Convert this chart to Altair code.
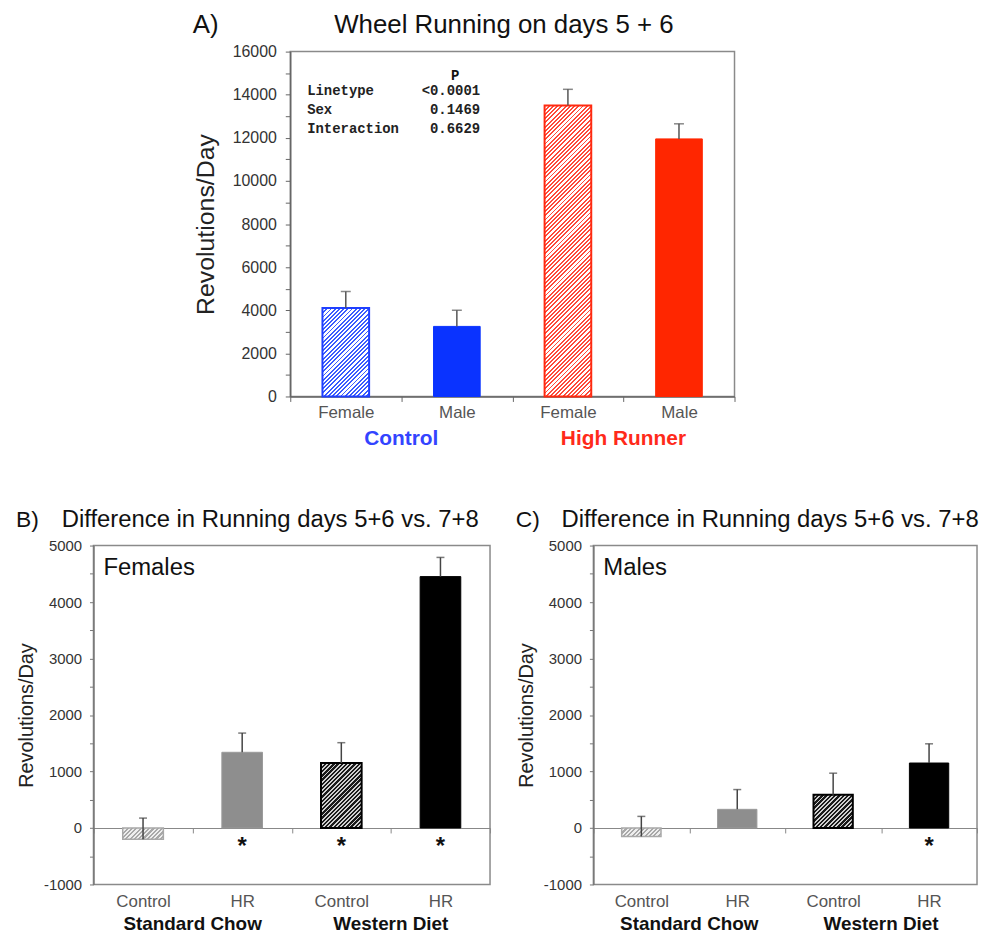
import altair as alt
import pandas as pd

FONT = "Liberation Sans"

# ---------------- data ----------------
# Panel A
a_groups = ["Control", "Control", "High Runner", "High Runner"]
a_sexes = ["Female", "Male", "Female", "Male"]
a_means = [4100, 3250, 13500, 11950]
a_err_tops = [4870, 4000, 14250, 12650]
a_group_labels = ["Control", "High Runner"]
a_y_ticks = list(range(0, 16001, 1000))

stat_header = "P"
stat_terms = ["Linetype", "Sex", "Interaction"]
stat_p = ["<0.0001", "0.1469", "0.6629"]

# Panels B and C
bc_lines = ["Control", "HR", "Control", "HR"]
bc_diets = ["Standard Chow", "Standard Chow", "Western Diet", "Western Diet"]
bc_group_labels = ["Standard Chow", "Western Diet"]
bc_y_ticks = list(range(-1000, 5001, 500))

b_means = [-200, 1340, 1150, 4450]
b_err_tops = [175, 1680, 1510, 4790]
b_sig = [False, True, True, True]

c_means = [-150, 330, 590, 1150]
c_err_tops = [205, 680, 970, 1490]
c_sig = [False, False, False, True]

panel_title = "Difference in Running days 5+6 vs. 7+8"

# ---------------- sizes ----------------
A_W, A_H = 447, 347
B_W, B_H = 399, 341
C_W, C_H = 386, 341
A_DOM = [0, 16000]
BC_DOM = [-1000, 5000]


def hatch(w, h, base, line, period=3.0, frac=0.45):
    """Diagonal '/' hatching emulated with a hard-stop linear gradient."""
    w = max(w, 1.0)
    h = max(h, 1.0)
    k = (w + h) / (w * w + h * h)
    n = max(1, int(round((w + h) / (period * 2 ** 0.5))))
    stops = []
    for i in range(n):
        a, b, c = i / n, (i + frac) / n, (i + 1) / n
        stops += [
            alt.GradientStop(offset=a, color=line),
            alt.GradientStop(offset=b, color=line),
            alt.GradientStop(offset=b, color=base),
            alt.GradientStop(offset=c, color=base),
        ]
    return alt.LinearGradient(gradient="linear", stops=stops, x1=0, y1=0, x2=w * k, y2=h * k)


def note(text, x, y, size, color="#111", weight="normal", align="left",
         baseline="alphabetic", font=FONT):
    return alt.Chart(alt.Data(values=[{}])).mark_text(
        text=text, fontSize=size, color=color, fontWeight=weight, align=align,
        baseline=baseline, font=font
    ).encode(x=alt.value(x), y=alt.value(y))


def make_x(keys, axis, band=None):
    kw = {}
    if band is not None:
        kw["bandPosition"] = band
    return alt.X("key:N", sort=keys,
                 scale=alt.Scale(domain=keys, paddingInner=0, paddingOuter=0),
                 axis=axis, **kw)


def bar_panel(df, keys, width, height, dom, y_axis, x_axis, styles, band_frac,
              err_color, cap_size):
    span = dom[1] - dom[0]
    bar_w = band_frac * width / len(keys)
    x_enc = make_x(keys, x_axis)
    y_scale = alt.Scale(domain=dom, nice=False, zero=False)
    layers = []
    base = alt.Chart(df)
    for key, mean in zip(df["key"], df["mean"]):
        st = styles[key]
        if "hatch" in st:
            b_, l_, fr = st["hatch"]
            fill = hatch(bar_w, abs(mean) / span * height, b_, l_, frac=fr)
        else:
            fill = st["fill"]
        layers.append(
            base.transform_filter(alt.datum.key == key).mark_bar(
                width={"band": band_frac}, fill=fill, stroke=st["stroke"],
                strokeWidth=st["sw"]
            ).encode(x=x_enc, y=alt.Y("mean:Q", scale=y_scale, axis=y_axis),
                     y2=alt.datum(0))
        )
    layers.append(
        base.mark_rule(color=err_color, strokeWidth=1.5).encode(
            x=x_enc, y=alt.Y("mean:Q", scale=y_scale, axis=y_axis), y2="err:Q")
    )
    layers.append(
        base.mark_tick(color=err_color, size=cap_size, thickness=1.5).encode(
            x=x_enc, y=alt.Y("err:Q", scale=y_scale, axis=y_axis))
    )
    return layers


# ---------------- Panel A ----------------
a_keys = [f"{g}|{s}" for g, s in zip(a_groups, a_sexes)]
dfA = pd.DataFrame({"key": a_keys, "mean": a_means, "err": a_err_tops})

a_y_axis = alt.Axis(
    values=a_y_ticks, labelExpr="datum.value % 2000 === 0 ? '' + datum.value : ''",
    title="Revolutions/Day", titleFontSize=25, titleFontWeight="normal", titleColor="#222",
    titlePadding=14, labelFontSize=16, labelColor="#333", labelPadding=9, tickSize=5,
    tickColor="#666", domainColor="#666", domainWidth=1.5, grid=False,
)
a_x_axis = alt.Axis(
    title=None, labelExpr="split(datum.label, '|')[1]", labelAngle=0, tickBand="extent",
    tickSize=5, tickColor="#666", domainColor="#666", domainWidth=1.5, labelFontSize=17,
    labelColor="#555", labelPadding=3, grid=False,
)
A_STYLES = {
    "Control|Female": dict(hatch=("#ffffff", "#3a5cff", 0.45), stroke="#1f3fff", sw=2),
    "Control|Male": dict(fill="#0a33ff", stroke="#0a33ff", sw=1),
    "High Runner|Female": dict(hatch=("#ffffff", "#ff4a3a", 0.45), stroke="#ff2a10", sw=2),
    "High Runner|Male": dict(fill="#ff2600", stroke="#ff2600", sw=1),
}
layersA = bar_panel(dfA, a_keys, A_W, A_H, A_DOM, a_y_axis, a_x_axis, A_STYLES, 0.42,
                    "#555", 10)

dfAG = pd.DataFrame({"key": [a_keys[1], a_keys[3]], "label": a_group_labels})
layersA.append(
    alt.Chart(dfAG).mark_text(fontSize=21, fontWeight="bold", baseline="middle",
                              font=FONT).encode(
        x=make_x(a_keys, a_x_axis, band=0), y=alt.value(390), text="label:N",
        color=alt.Color("label:N", scale=alt.Scale(domain=a_group_labels,
                                                  range=["#3344ff", "#ff2a1a"]),
                        legend=None))
)
MONO = "Liberation Mono"
layersA.append(note(stat_header, 166, 29, 14, weight="bold", align="center", font=MONO))
for i, (t, p) in enumerate(zip(stat_terms, stat_p)):
    yy = 44 + 19 * i
    layersA.append(note(t, 17, yy, 14, weight="bold", font=MONO, color="#222"))
    layersA.append(note(p, 191, yy, 14, weight="bold", align="right", font=MONO, color="#222"))
layersA.append(note("A)", -98, -19, 26))
layersA.append(note("Wheel Running on days 5 + 6", 215, -19, 26, align="center"))

chartA = alt.layer(*layersA).properties(width=A_W, height=A_H)
spacer = alt.Chart(alt.Data(values=[{}])).mark_point(opacity=0).properties(
    width=198, height=A_H, view=alt.ViewBackground(stroke="transparent"))
rowA = alt.hconcat(spacer, chartA, spacing=0, bounds="flush")


# ---------------- Panels B, C ----------------
def diff_panel(letter, sub, means, errs, sig, width, height):
    keys = [f"{d}|{l}" for d, l in zip(bc_diets, bc_lines)]
    df = pd.DataFrame({"key": keys, "mean": means, "err": errs, "sig": sig})
    zero_from_bottom = (0 - BC_DOM[0]) / (BC_DOM[1] - BC_DOM[0]) * height
    y_axis = alt.Axis(
        values=bc_y_ticks, labelExpr="datum.value % 1000 === 0 ? '' + datum.value : ''",
        title="Revolutions/Day", titleFontSize=20, titleFontWeight="normal",
        titleColor="#222", titlePadding=7, labelFontSize=15, labelColor="#333",
        labelPadding=8, tickSize=4, tickColor="#777", domainColor="#777",
        domainWidth=1.5, grid=False,
    )
    x_axis = alt.Axis(
        title=None, labelExpr="split(datum.label, '|')[1]", labelAngle=0,
        tickBand="extent", tickSize=5, tickColor="#888", domainColor="#888",
        domainWidth=1.2, offset=-zero_from_bottom, labelPadding=61, labelFontSize=17,
        labelColor="#555", grid=False,
    )
    styles = {
        keys[0]: dict(hatch=("#eeeeee", "#a8a8a8", 0.5), stroke="#a8a8a8", sw=1.5),
        keys[1]: dict(fill="#8e8e8e", stroke="#9a9a9a", sw=1),
        keys[2]: dict(hatch=("#cfcfcf", "#1a1a1a", 0.55), stroke="#000000", sw=2),
        keys[3]: dict(fill="#000000", stroke="#000000", sw=1),
    }
    layers = bar_panel(df, keys, width, height, BC_DOM, y_axis, x_axis, styles, 0.41,
                       "#444", 8)
    layers.append(
        alt.Chart(df).transform_filter(alt.datum.sig == True).mark_text(
            text="*", fontSize=24, fontWeight="bold", baseline="middle", color="#111",
            font=FONT
        ).encode(x=make_x(keys, x_axis), y=alt.value(303))
    )
    dfG = pd.DataFrame({"key": [keys[1], keys[3]], "label": bc_group_labels})
    layers.append(
        alt.Chart(dfG).mark_text(fontSize=19, fontWeight="bold", baseline="middle",
                                 color="#111", font=FONT).encode(
            x=make_x(keys, x_axis, band=0), y=alt.value(380.5), text="label:N")
    )
    layers.append(note(letter, -78, -19, 23))
    layers.append(note(panel_title, -32, -19, 24))
    layers.append(note(sub, 10, 30, 24))
    return alt.layer(*layers).properties(width=width, height=height)


chartB = diff_panel("B)", "Females", b_means, b_err_tops, b_sig, B_W, B_H)
chartC = diff_panel("C)", "Males", c_means, c_err_tops, c_sig, C_W, C_H)
rowBC = alt.hconcat(chartB, chartC, spacing=104, bounds="flush")

# with flush bounds the nested row counts as zero height, so the gap includes A_H
chart = alt.vconcat(rowA, rowBC, spacing=A_H + 150, bounds="flush").properties(
    padding={"left": 7, "top": 0, "right": 0, "bottom": 0}
).configure(font=FONT).configure_view(stroke="#8a8a8a", strokeWidth=1.5)

chart.save("out.html", embed_options={"renderer": "svg", "actions": False})
